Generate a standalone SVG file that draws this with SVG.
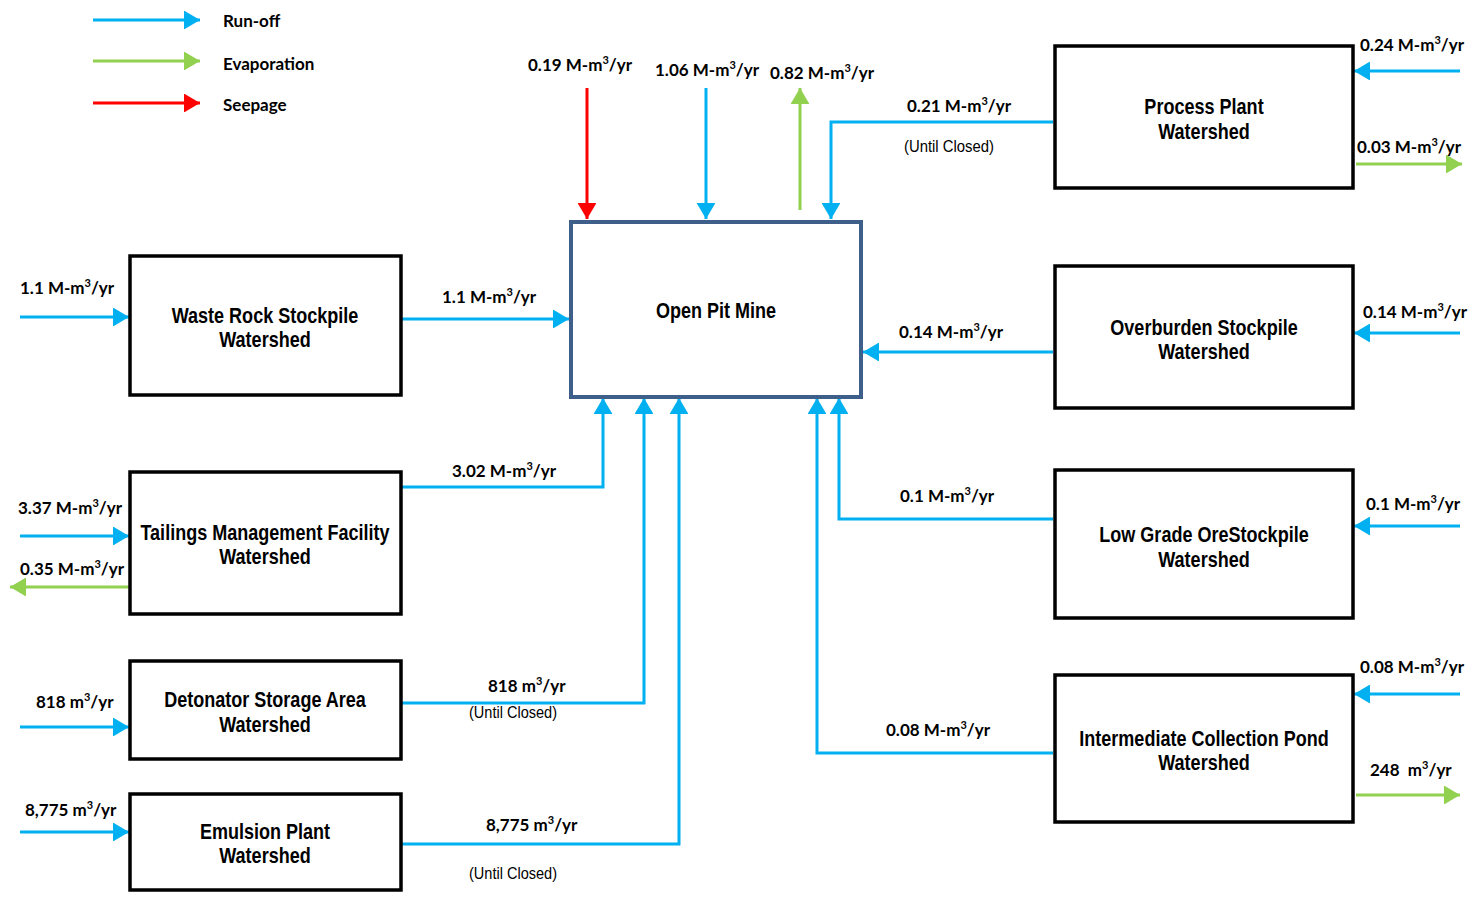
<svg xmlns="http://www.w3.org/2000/svg" width="1480" height="898" viewBox="0 0 1480 898">
<defs>
<marker id="ab" viewBox="0 0 16 19" refX="16" refY="9.5" markerWidth="5.33" markerHeight="6.33" orient="auto" markerUnits="strokeWidth"><path d="M0,0 L16,9.5 L0,19 z" fill="#00B0F0"/></marker>
<marker id="ag" viewBox="0 0 16 19" refX="16" refY="9.5" markerWidth="5.33" markerHeight="6.33" orient="auto" markerUnits="strokeWidth"><path d="M0,0 L16,9.5 L0,19 z" fill="#92D050"/></marker>
<marker id="ar" viewBox="0 0 16 19" refX="16" refY="9.5" markerWidth="5.33" markerHeight="6.33" orient="auto" markerUnits="strokeWidth"><path d="M0,0 L16,9.5 L0,19 z" fill="#FF0000"/></marker>
</defs>
<style>
.bg{fill:#fff}
.box{fill:#fff;stroke:#000;stroke-width:3.5}
.pit{fill:#fff;stroke:#3E5F8A;stroke-width:4}
.nt{font-family:"Liberation Sans",Arial,sans-serif;font-weight:bold;font-size:22px;fill:#000;text-anchor:middle}
.fl{font-family:Lato,"Liberation Sans",sans-serif;font-weight:bold;font-size:17px;fill:#000}
.sup{font-size:11px}
.uc{font-family:"Liberation Sans",Arial,sans-serif;font-size:16px;fill:#000}
.b{fill:none;stroke:#00B0F0;stroke-width:3}
.g{fill:none;stroke:#92D050;stroke-width:3}
.r{fill:none;stroke:#FF0000;stroke-width:3}
.ba{marker-end:url(#ab)}
.ga{marker-end:url(#ag)}
.ra{marker-end:url(#ar)}
</style>
<rect class="bg" x="0" y="0" width="1480" height="898"/>

<g id="legend">
<line class="b ba" x1="93" y1="20" x2="200" y2="20"/>
<line class="g ga" x1="93" y1="61" x2="200" y2="61"/>
<line class="r ra" x1="93" y1="103" x2="200" y2="103"/>
<text class="fl" x="223" y="27">Run-off</text>
<text class="fl" x="223" y="70">Evaporation</text>
<text class="fl" x="223" y="111">Seepage</text>
</g>

<g id="connectors">
<line class="r ra" x1="587" y1="88" x2="587" y2="219"/>
<line class="b ba" x1="706" y1="88" x2="706" y2="219"/>
<line class="g ga" x1="800" y1="210" x2="800" y2="88"/>
<polyline class="b ba" points="1053,122 831,122 831,219"/>
<line class="b ba" x1="1460" y1="71" x2="1354" y2="71"/>
<line class="g ga" x1="1356" y1="164" x2="1462" y2="164"/>
<line class="b ba" x1="20" y1="317" x2="129" y2="317"/>
<line class="b ba" x1="401" y1="319" x2="569" y2="319"/>
<line class="b ba" x1="1053" y1="352" x2="863" y2="352"/>
<line class="b ba" x1="1460" y1="333" x2="1354" y2="333"/>
<polyline class="b ba" points="401,487 603,487 603,398"/>
<line class="b ba" x1="20" y1="536" x2="129" y2="536"/>
<line class="g ga" x1="130" y1="587" x2="10" y2="587"/>
<polyline class="b ba" points="401,703 644,703 644,398"/>
<line class="b ba" x1="20" y1="727" x2="129" y2="727"/>
<polyline class="b ba" points="401,844 679,844 679,398"/>
<line class="b ba" x1="20" y1="832" x2="129" y2="832"/>
<polyline class="b ba" points="1053,519 839,519 839,398"/>
<line class="b ba" x1="1460" y1="526" x2="1354" y2="526"/>
<polyline class="b ba" points="1053,753 817,753 817,398"/>
<line class="b ba" x1="1460" y1="694" x2="1354" y2="694"/>
<line class="g ga" x1="1356" y1="795" x2="1460" y2="795"/>
</g>

<g id="open-pit-mine">
<rect class="pit" x="571" y="222" width="290" height="175"/>
<text class="nt" transform="translate(716 318) scale(0.82 1)">Open Pit Mine</text>
</g>
<g id="waste-rock">
<rect class="box" x="130" y="256" width="271" height="139"/>
<text class="nt" transform="translate(265 323) scale(0.82 1)">Waste Rock Stockpile</text>
<text class="nt" transform="translate(265 347) scale(0.82 1)">Watershed</text>
</g>
<g id="tailings">
<rect class="box" x="130" y="472" width="271" height="142"/>
<text class="nt" transform="translate(265 540) scale(0.82 1)">Tailings Management Facility</text>
<text class="nt" transform="translate(265 564) scale(0.82 1)">Watershed</text>
</g>
<g id="detonator">
<rect class="box" x="130" y="661" width="271" height="98"/>
<text class="nt" transform="translate(265 707) scale(0.82 1)">Detonator Storage Area</text>
<text class="nt" transform="translate(265 732) scale(0.82 1)">Watershed</text>
</g>
<g id="emulsion">
<rect class="box" x="130" y="794" width="271" height="96"/>
<text class="nt" transform="translate(265 839) scale(0.82 1)">Emulsion Plant</text>
<text class="nt" transform="translate(265 863) scale(0.82 1)">Watershed</text>
</g>
<g id="process-plant">
<rect class="box" x="1055" y="46" width="298" height="142"/>
<text class="nt" transform="translate(1204 114) scale(0.82 1)">Process Plant</text>
<text class="nt" transform="translate(1204 139) scale(0.82 1)">Watershed</text>
</g>
<g id="overburden">
<rect class="box" x="1055" y="266" width="298" height="142"/>
<text class="nt" transform="translate(1204 335) scale(0.82 1)">Overburden Stockpile</text>
<text class="nt" transform="translate(1204 359) scale(0.82 1)">Watershed</text>
</g>
<g id="low-grade">
<rect class="box" x="1055" y="470" width="298" height="148"/>
<text class="nt" transform="translate(1204 542) scale(0.82 1)">Low Grade OreStockpile</text>
<text class="nt" transform="translate(1204 567) scale(0.82 1)">Watershed</text>
</g>
<g id="intermediate">
<rect class="box" x="1055" y="675" width="298" height="147"/>
<text class="nt" transform="translate(1204 746) scale(0.82 1)">Intermediate Collection Pond</text>
<text class="nt" transform="translate(1204 770) scale(0.82 1)">Watershed</text>
</g>

<g id="labels">
<text class="fl" x="528" y="71">0.19 M-m<tspan class="sup" dy="-7">3</tspan><tspan dy="7">/yr</tspan></text>
<text class="fl" x="655" y="76">1.06 M-m<tspan class="sup" dy="-7">3</tspan><tspan dy="7">/yr</tspan></text>
<text class="fl" x="770" y="79">0.82 M-m<tspan class="sup" dy="-7">3</tspan><tspan dy="7">/yr</tspan></text>
<text class="fl" x="907" y="112">0.21 M-m<tspan class="sup" dy="-7">3</tspan><tspan dy="7">/yr</tspan></text>
<text class="uc" x="904" y="152" textLength="90" lengthAdjust="spacingAndGlyphs">(Until Closed)</text>
<text class="fl" x="1360" y="51">0.24 M-m<tspan class="sup" dy="-7">3</tspan><tspan dy="7">/yr</tspan></text>
<text class="fl" x="1357" y="153">0.03 M-m<tspan class="sup" dy="-7">3</tspan><tspan dy="7">/yr</tspan></text>
<text class="fl" x="20" y="294">1.1 M-m<tspan class="sup" dy="-7">3</tspan><tspan dy="7">/yr</tspan></text>
<text class="fl" x="442" y="303">1.1 M-m<tspan class="sup" dy="-7">3</tspan><tspan dy="7">/yr</tspan></text>
<text class="fl" x="899" y="338">0.14 M-m<tspan class="sup" dy="-7">3</tspan><tspan dy="7">/yr</tspan></text>
<text class="fl" x="1363" y="318">0.14 M-m<tspan class="sup" dy="-7">3</tspan><tspan dy="7">/yr</tspan></text>
<text class="fl" x="452" y="477">3.02 M-m<tspan class="sup" dy="-7">3</tspan><tspan dy="7">/yr</tspan></text>
<text class="fl" x="18" y="514">3.37 M-m<tspan class="sup" dy="-7">3</tspan><tspan dy="7">/yr</tspan></text>
<text class="fl" x="20" y="575">0.35 M-m<tspan class="sup" dy="-7">3</tspan><tspan dy="7">/yr</tspan></text>
<text class="fl" x="900" y="502">0.1 M-m<tspan class="sup" dy="-7">3</tspan><tspan dy="7">/yr</tspan></text>
<text class="fl" x="1366" y="510">0.1 M-m<tspan class="sup" dy="-7">3</tspan><tspan dy="7">/yr</tspan></text>
<text class="fl" x="488" y="692">818 m<tspan class="sup" dy="-7">3</tspan><tspan dy="7">/yr</tspan></text>
<text class="uc" x="469" y="718" textLength="88" lengthAdjust="spacingAndGlyphs">(Until Closed)</text>
<text class="fl" x="36" y="708">818 m<tspan class="sup" dy="-7">3</tspan><tspan dy="7">/yr</tspan></text>
<text class="fl" x="486" y="831">8,775 m<tspan class="sup" dy="-7">3</tspan><tspan dy="7">/yr</tspan></text>
<text class="uc" x="469" y="879" textLength="88" lengthAdjust="spacingAndGlyphs">(Until Closed)</text>
<text class="fl" x="25" y="816">8,775 m<tspan class="sup" dy="-7">3</tspan><tspan dy="7">/yr</tspan></text>
<text class="fl" x="886" y="736">0.08 M-m<tspan class="sup" dy="-7">3</tspan><tspan dy="7">/yr</tspan></text>
<text class="fl" x="1360" y="673">0.08 M-m<tspan class="sup" dy="-7">3</tspan><tspan dy="7">/yr</tspan></text>
<text class="fl" x="1370" y="776" xml:space="preserve">248  m<tspan class="sup" dy="-7">3</tspan><tspan dy="7">/yr</tspan></text>
</g>
</svg>
